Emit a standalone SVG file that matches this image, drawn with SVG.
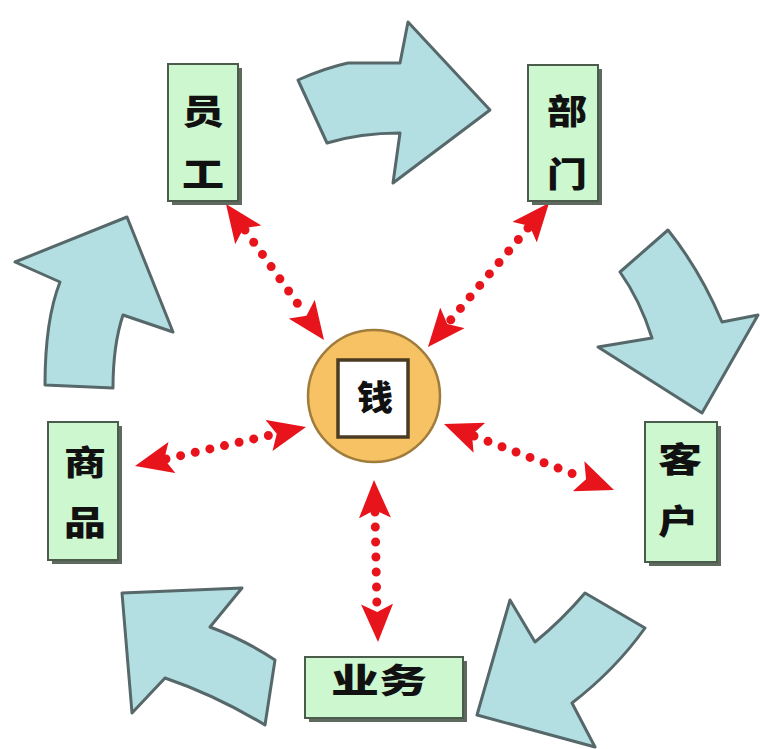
<svg xmlns="http://www.w3.org/2000/svg" width="760" height="749" viewBox="0 0 760 749">
<style>
.big{fill:#b3dfe2;stroke:#56686a;stroke-width:3;stroke-linejoin:round}
.shadow{fill:#5e6a5e}
.box{fill:#ccf7cf;stroke:#4c5c4c;stroke-width:2}
.t{font-family:"Noto Sans CJK SC","Noto Sans CJK JP",sans-serif;font-weight:900;font-size:34px;fill:#111;text-anchor:middle}
.dots{stroke:#e8141c;stroke-width:9;stroke-linecap:round;stroke-dasharray:0 15;fill:none}
.heads{stroke:none;fill:none}
</style>
<defs>
<marker id="ah" viewBox="0 0 38 32" refX="38" refY="16" markerWidth="38" markerHeight="32" markerUnits="userSpaceOnUse" orient="auto-start-reverse">
<path d="M0,0 L38,16 L0,32 L8,16 Z" fill="#e8141c"/>
</marker>
</defs>
<rect width="760" height="749" fill="#fff"/>
<g id="cycle-arrows">
<path class="big" d="M298,80 Q325,68 348,63 L400,63 L408,22 L490,110 L393,183 L400,133 Q360,133 327,143 Z"/>
<path class="big" d="M620,272 L668,230 Q700,270 722,322 L758,315 L702,413 L598,347 L652,338 Q640,300 620,272 Z"/>
<path class="big" d="M585,593 L645,628 Q615,670 572,703 L595,747 L477,715 L510,600 L535,642 Q562,620 585,593 Z"/>
<path class="big" d="M122,593 L242,588 L210,627 Q245,640 275,660 L265,725 Q215,695 165,678 L132,713 Z"/>
<path class="big" d="M127,217 L173,332 L123,315 Q113,345 113,388 L45,385 Q45,320 60,282 L15,262 Z"/>
</g>
<g id="connectors">
<line class="dots" x1="245" y1="230" x2="305" y2="314"/>
<line class="heads" x1="226" y1="204" x2="324" y2="340" marker-start="url(#ah)" marker-end="url(#ah)"/>
<line class="dots" x1="528" y1="228" x2="449" y2="322"/>
<line class="heads" x1="549" y1="203" x2="428" y2="347" marker-start="url(#ah)" marker-end="url(#ah)"/>
<line class="dots" x1="166" y1="459" x2="275" y2="434"/>
<line class="heads" x1="135" y1="466" x2="306" y2="427" marker-start="url(#ah)" marker-end="url(#ah)"/>
<line class="dots" x1="474" y1="436" x2="584" y2="478"/>
<line class="heads" x1="444" y1="424" x2="614" y2="490" marker-start="url(#ah)" marker-end="url(#ah)"/>
<line class="dots" x1="375" y1="512" x2="377" y2="610"/>
<line class="heads" x1="374" y1="480" x2="378" y2="642" marker-start="url(#ah)" marker-end="url(#ah)"/>
</g>
<g id="node-yuangong">
<rect class="shadow" x="172" y="68" width="70" height="137"/>
<rect class="box" x="168" y="64" width="70" height="137"/>
<text class="t"><tspan x="203" y="124" textLength="42" lengthAdjust="spacingAndGlyphs">员</tspan><tspan x="203" y="187" textLength="42" lengthAdjust="spacingAndGlyphs">工</tspan></text>
</g>
<g id="node-bumen">
<rect class="shadow" x="532" y="69" width="70" height="136"/>
<rect class="box" x="528" y="65" width="70" height="136"/>
<text class="t"><tspan x="567" y="124" textLength="40" lengthAdjust="spacingAndGlyphs">部</tspan><tspan x="567" y="187" textLength="40" lengthAdjust="spacingAndGlyphs">门</tspan></text>
</g>
<g id="node-shangpin">
<rect class="shadow" x="52" y="426" width="70" height="138"/>
<rect class="box" x="48" y="422" width="70" height="138"/>
<text class="t"><tspan x="85" y="475" textLength="42" lengthAdjust="spacingAndGlyphs">商</tspan><tspan x="85" y="535" textLength="42" lengthAdjust="spacingAndGlyphs">品</tspan></text>
</g>
<g id="node-kehu">
<rect class="shadow" x="649" y="426" width="72" height="140"/>
<rect class="box" x="645" y="422" width="72" height="140"/>
<text class="t"><tspan x="680" y="472" textLength="44" lengthAdjust="spacingAndGlyphs">客</tspan><tspan x="678" y="534" textLength="40" lengthAdjust="spacingAndGlyphs">户</tspan></text>
</g>
<g id="node-yewu">
<rect class="shadow" x="309" y="661" width="158" height="61"/>
<rect class="box" x="305" y="657" width="158" height="61"/>
<text class="t" x="379" y="693" textLength="96" lengthAdjust="spacingAndGlyphs">业务</text>
</g>
<g id="node-qian">
<circle cx="374" cy="396" r="66" fill="#f6c263" stroke="#a07c3c" stroke-width="2.5"/>
<rect x="338" y="360" width="70" height="77" fill="#fff" stroke="#4a3b22" stroke-width="3.5"/>
<text class="t" x="375" y="410" textLength="36" lengthAdjust="spacingAndGlyphs">钱</text>
</g>
</svg>
